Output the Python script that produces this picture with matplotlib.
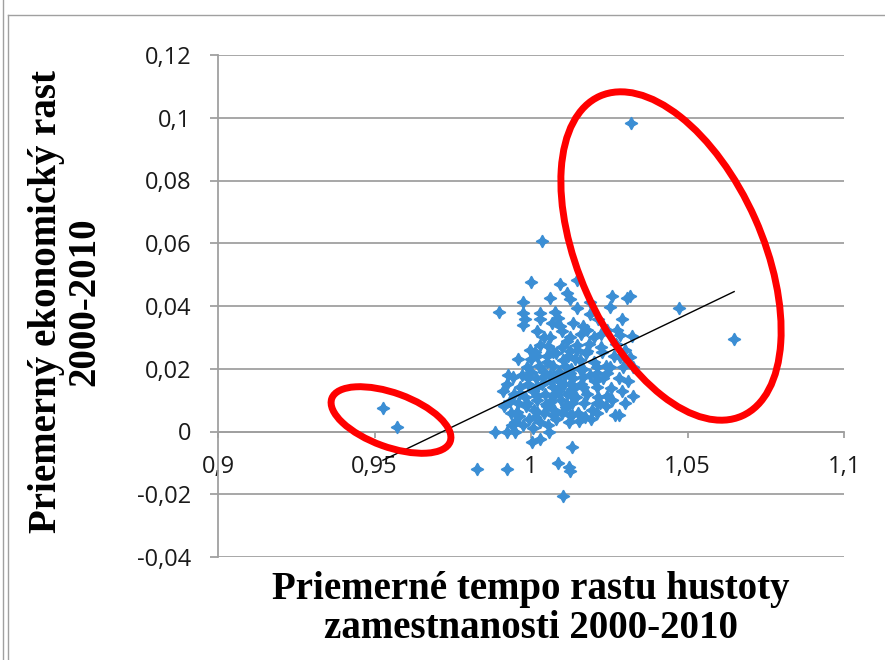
import numpy as np
import matplotlib
matplotlib.use("Agg")
import matplotlib.pyplot as plt
from matplotlib.patches import Ellipse
from matplotlib.lines import Line2D
from matplotlib.ticker import FuncFormatter

# priemerne tempo rastu hustoty zamestnanosti (x) a priemerny ekonomicky rast (y)
body = [
    (1.0320, 0.0982), (1.0035, 0.0606), (1.0473, 0.0395), (1.0649, 0.0296),
    (0.9527, 0.0076), (0.9572, 0.0013), (0.9898, 0.0382), (1.0000, 0.0475),
    (1.0093, 0.0469), (1.0147, 0.0484), (0.9974, 0.0414), (1.0061, 0.0427),
    (1.0115, 0.0443), (1.0125, 0.0421), (1.0188, 0.0414), (1.0259, 0.0433),
    (1.0307, 0.0427), (1.0316, 0.0433), (0.9974, 0.0379), (0.9981, 0.0357),
    (1.0029, 0.0379), (1.0029, 0.0357), (1.0077, 0.0382), (1.0086, 0.0363),
    (1.0147, 0.0395), (1.0188, 0.0373), (1.0214, 0.0357), (1.0252, 0.0398),
    (1.0291, 0.0357), (0.9974, 0.0341), (1.0019, 0.0319), (1.0067, 0.0347),
    (1.0093, 0.0335), (1.0134, 0.0347), (1.0166, 0.0335), (1.0179, 0.0325),
    (1.0243, 0.0325), (1.0275, 0.0325), (1.0284, 0.0309), (1.0323, 0.0303),
    (1.0029, 0.0277), (1.0054, 0.0271), (1.0115, 0.0287), (1.0147, 0.0277),
    (1.0013, 0.0252), (1.0070, 0.0252), (1.0125, 0.0255), (1.0179, 0.0255),
    (1.0227, 0.0252), (1.0284, 0.0239), (1.0316, 0.0239), (0.9987, 0.0207),
    (1.0051, 0.0220), (1.0102, 0.0229), (1.0157, 0.0229), (1.0211, 0.0207),
    (1.0252, 0.0204), (1.0294, 0.0207), (1.0326, 0.0204), (0.9942, 0.0175),
    (0.9990, 0.0172), (1.0038, 0.0175), (1.0083, 0.0175), (1.0125, 0.0188),
    (1.0166, 0.0175), (1.0211, 0.0188), (1.0243, 0.0188), (0.9923, 0.0150),
    (0.9965, 0.0143), (1.0019, 0.0143), (1.0070, 0.0143), (1.0125, 0.0150),
    (1.0166, 0.0143), (1.0211, 0.0143), (0.9965, 0.0124), (1.0019, 0.0112),
    (1.0070, 0.0112), (1.0125, 0.0124), (1.0243, 0.0112), (1.0326, 0.0112),
    (0.9933, 0.0096), (0.9987, 0.0092), (1.0051, 0.0080), (1.0115, 0.0086),
    (1.0220, 0.0092), (1.0300, 0.0092), (0.9955, 0.0061), (1.0019, 0.0061),
    (1.0070, 0.0054), (1.0268, 0.0054), (1.0211, 0.0092), (1.0281, 0.0051),
    (1.0125, 0.0051), (0.9885, -0.0003), (0.9923, -0.0003), (0.9949, -0.0003),
    (1.0003, -0.0035), (1.0029, -0.0025), (1.0058, -0.0003), (1.0131, -0.0048),
    (0.9827, -0.0118), (0.9923, -0.0118), (1.0086, -0.0099), (1.0121, -0.0112),
    (1.0125, -0.0127), (1.0102, -0.0207),
    # husta cast
    (0.9950, 0.0030), (0.9962, 0.0050), (0.9975, 0.0020), (0.9985, 0.0080),
    (0.9995, 0.0040), (1.0005, 0.0010), (1.0010, 0.0070), (1.0020, 0.0100),
    (1.0030, 0.0030), (1.0040, 0.0060), (1.0045, 0.0120), (1.0055, 0.0020),
    (1.0060, 0.0095), (1.0065, 0.0160), (1.0075, 0.0070), (1.0080, 0.0040),
    (1.0085, 0.0130), (1.0090, 0.0190), (1.0095, 0.0100), (1.0100, 0.0060),
    (1.0105, 0.0150), (1.0110, 0.0210), (1.0115, 0.0120), (1.0120, 0.0030),
    (1.0130, 0.0090), (1.0135, 0.0170), (1.0140, 0.0230), (1.0145, 0.0110),
    (1.0150, 0.0060), (1.0155, 0.0200), (1.0160, 0.0150), (1.0170, 0.0090),
    (1.0175, 0.0250), (1.0180, 0.0120), (1.0190, 0.0180), (1.0195, 0.0070),
    (1.0200, 0.0220), (1.0205, 0.0160), (1.0215, 0.0110), (1.0225, 0.0270),
    (1.0230, 0.0170), (1.0240, 0.0210), (1.0255, 0.0140), (1.0265, 0.0240),
    (1.0280, 0.0170), (0.9980, 0.0110), (0.9990, 0.0150), (1.0000, 0.0190),
    (1.0005, 0.0130), (1.0015, 0.0170), (1.0025, 0.0210), (1.0035, 0.0150),
    (1.0040, 0.0190), (1.0050, 0.0240), (1.0060, 0.0180), (1.0070, 0.0210),
    (1.0080, 0.0250), (1.0088, 0.0160), (1.0098, 0.0270), (1.0108, 0.0180),
    (1.0118, 0.0240), (1.0128, 0.0200), (1.0138, 0.0140), (1.0148, 0.0260),
    (1.0165, 0.0200), (1.0185, 0.0280), (1.0200, 0.0300), (1.0040, 0.0300),
    (1.0020, 0.0240), (1.0000, 0.0230), (0.9970, 0.0180), (0.9960, 0.0090),
    (0.9945, 0.0120), (0.9935, 0.0060), (0.9915, 0.0080), (0.9910, 0.0130),
    (0.9925, 0.0180), (0.9940, 0.0020), (1.0012, 0.0045), (1.0048, 0.0088),
    (1.0072, 0.0118), (1.0092, 0.0142), (1.0112, 0.0078), (1.0132, 0.0052),
    (1.0152, 0.0035), (1.0172, 0.0045), (1.0192, 0.0040), (1.0210, 0.0060),
    (1.0240, 0.0080), (1.0260, 0.0100), (1.0290, 0.0130), (1.0310, 0.0160),
    (1.0100, 0.0320), (1.0125, 0.0300), (1.0060, 0.0300), (1.0160, 0.0310),
    (1.0225, 0.0310), (1.0270, 0.0280), (1.0300, 0.0260), (0.9998, 0.0260),
    (0.9960, 0.0230),
]
tempo = np.array([b[0] for b in body])
rast = np.array([b[1] for b in body])

# linearny trend (ako v Exceli)
trend_k = 0.479
trend_q = -0.4655

x_ticks = [0.9, 0.95, 1.0, 1.05, 1.1]
y_ticks = [-0.04, -0.02, 0, 0.02, 0.04, 0.06, 0.08, 0.1, 0.12]

x_nazov = "Priemerné tempo rastu hustoty\nzamestnanosti 2000-2010"
y_nazov = "Priemerný ekonomický rast\n2000-2010"

seda = "#A0A0A0"
modra = "#3B8ED4"

fig = plt.figure(figsize=(8.85, 6.6), dpi=100)
ax = fig.add_axes([218 / 885, 1 - 557 / 660, (844 - 218) / 885, (557 - 55) / 660])

ax.plot(tempo, rast, linestyle="none", marker=(4, 1, 0), markersize=9,
        color=modra, markeredgecolor=modra, markeredgewidth=1.0, zorder=3)

tx = np.array([tempo.min(), tempo.max()])
ax.plot(tx, trend_k * tx + trend_q, color="black", linewidth=1.0, zorder=4)

ax.set_xlim(0.9, 1.1)
ax.set_ylim(-0.04, 0.12)
ax.set_xticks(x_ticks)
ax.set_yticks(y_ticks)

fmt = FuncFormatter(lambda v, p: ("%g" % round(v, 4)).replace(".", ","))
ax.xaxis.set_major_formatter(fmt)
ax.yaxis.set_major_formatter(fmt)

ax.yaxis.grid(True, color=seda, linewidth=1.3)
ax.set_axisbelow(True)

for s in ["top", "right"]:
    ax.spines[s].set_visible(False)
ax.spines["bottom"].set_position(("data", 0))
ax.spines["bottom"].set_color(seda)
ax.spines["left"].set_color(seda)
ax.spines["bottom"].set_linewidth(1.3)
ax.spines["left"].set_linewidth(1.3)

ax.tick_params(axis="y", direction="out", length=6, width=1.3, color=seda,
               pad=13, labelsize=17, labelcolor="#1a1a1a")
ax.tick_params(axis="x", direction="out", length=4, width=1.3, color=seda,
               pad=13, labelsize=17, labelcolor="#1a1a1a")
for t in ax.get_xticklabels() + ax.get_yticklabels():
    t.set_fontfamily("Open Sans")

fig.text(531 / 885, 1 - 609 / 660, x_nazov, ha="center", va="center",
         fontsize=28, fontweight="bold", family="Liberation Serif", linespacing=1.05)
fig.text(66 / 885, 1 - 302 / 660, y_nazov, ha="center", va="center", rotation=90,
         fontsize=28, fontweight="bold", family="Liberation Serif", linespacing=1.05)

# cervene elipsy
fig.add_artist(Ellipse((3.91, 2.40), 1.26, 0.54, angle=-20, fill=False,
                       edgecolor="red", linewidth=5, transform=fig.dpi_scale_trans))
fig.add_artist(Ellipse((6.71, 4.04), 3.50, 1.84, angle=114, fill=False,
                       edgecolor="red", linewidth=5, transform=fig.dpi_scale_trans))

# ramcek
fig.add_artist(Line2D([3 / 885, 3 / 885], [0, 1], color=seda, linewidth=1, transform=fig.transFigure))
fig.add_artist(Line2D([8 / 885, 8 / 885], [0, 1 - 15 / 660], color=seda, linewidth=1, transform=fig.transFigure))
fig.add_artist(Line2D([8 / 885, 1], [1 - 15 / 660, 1 - 15 / 660], color=seda, linewidth=1, transform=fig.transFigure))

plt.savefig("out.png", dpi=100)
